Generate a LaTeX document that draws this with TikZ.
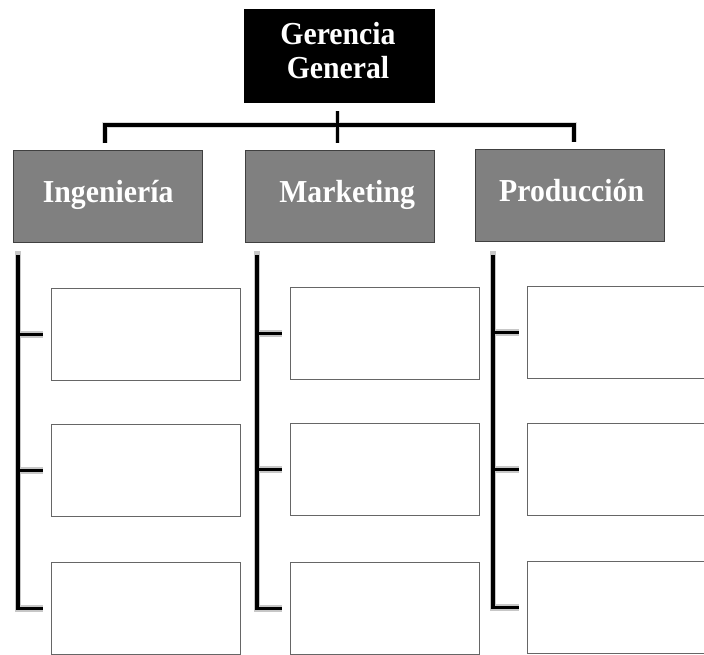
\documentclass[tikz,border=0pt]{standalone}
\usepackage{fontspec}
\setmainfont{Liberation Serif}
\newfontfamily\chartfont[FakeStretch=0.93]{Liberation Serif}
\begin{document}
\begin{tikzpicture}[x=1pt,y=-1pt,
  head/.style={draw=black, fill=black, line width=1pt, minimum width=190pt,
    minimum height=93pt, inner sep=0pt, anchor=north west},
  dept/.style={draw=black!75, fill=gray, line width=1.3pt, minimum width=189pt,
    minimum height=92pt, inner sep=0pt, anchor=north west},
  slot/.style={draw=black!60, fill=white, line width=1pt, minimum width=189pt,
    minimum height=92pt, inner sep=0pt, anchor=north west},
  deptname/.style={text=white, font=\chartfont\bfseries\fontsize{32}{34}\selectfont,
    anchor=base, inner sep=0pt},
  wire/.style={line width=3.6pt, black},
  halo/.style={line width=6.5pt, black!22},
  softhalo/.style={line width=5.5pt, black!15}
]
\clip (0,0) rectangle (704,654);

% top of the chart
\node[head] (gg) at (244,9) {};
\node[deptname] (gg1) at (338,44) {Gerencia};
\node[deptname] (gg2) at (338,78) {General};

% departments
\node[dept] (ing)  at (13,150)  {};
\node[dept] (mkt)  at (245,150) {};
\node[dept] (prod) at (475,149) {};
\node[deptname] (ingt)  at ([yshift=-6pt]ing.center)  {Ingeniería};
\node[deptname] (mktt)  at ([xshift=7pt,yshift=-6pt]mkt.center)  {Marketing};
\node[deptname] (prodt) at ([xshift=1.5pt,yshift=-6pt]prod.center) {Producción};

% branch from the general management to the departments
\coordinate (hubtop) at ([xshift=-2pt,yshift=-8pt]gg.south);
\coordinate (hub) at (337,125);
\coordinate (hubend) at ([yshift=7pt]mkt.north -| hubtop);
\draw[softhalo] ([xshift=-3pt,yshift=7pt]ing.north) |- (hub) -| ([xshift=4pt,yshift=7pt]prod.north);
\draw[softhalo] (hubtop) -- (hubend);
\draw[wire] ([xshift=-3pt,yshift=7pt]ing.north) |- (hub) -| ([xshift=4pt,yshift=7pt]prod.north);
\draw[wire] (hubtop) -- (hubend);

% empty positions under each department
\foreach \col/\cx/\bx/\ya/\yb/\yc in {1/18/51/288/424/562, 2/257/290/287/423/562, 3/493/527/286/423/561} {
  \node[slot] (s\col a) at (\bx,\ya) {};
  \node[slot] (s\col b) at (\bx,\yb) {};
  \node[slot] (s\col c) at (\bx,\yc) {};
  \coordinate (c\col) at (\cx,251);
  \draw[halo] (c\col) |- ([xshift=-8pt]s\col c.west);
  \draw[halo] (c\col |- s\col a.west) -- ([xshift=-8pt]s\col a.west);
  \draw[halo] (c\col |- s\col b.west) -- ([xshift=-8pt]s\col b.west);
  \draw[wire] ([yshift=-4pt]c\col) |- ([xshift=-8pt]s\col c.west);
  \draw[wire] (c\col |- s\col a.west) -- ([xshift=-8pt]s\col a.west);
  \draw[wire] (c\col |- s\col b.west) -- ([xshift=-8pt]s\col b.west);
}
\end{tikzpicture}
\end{document}
